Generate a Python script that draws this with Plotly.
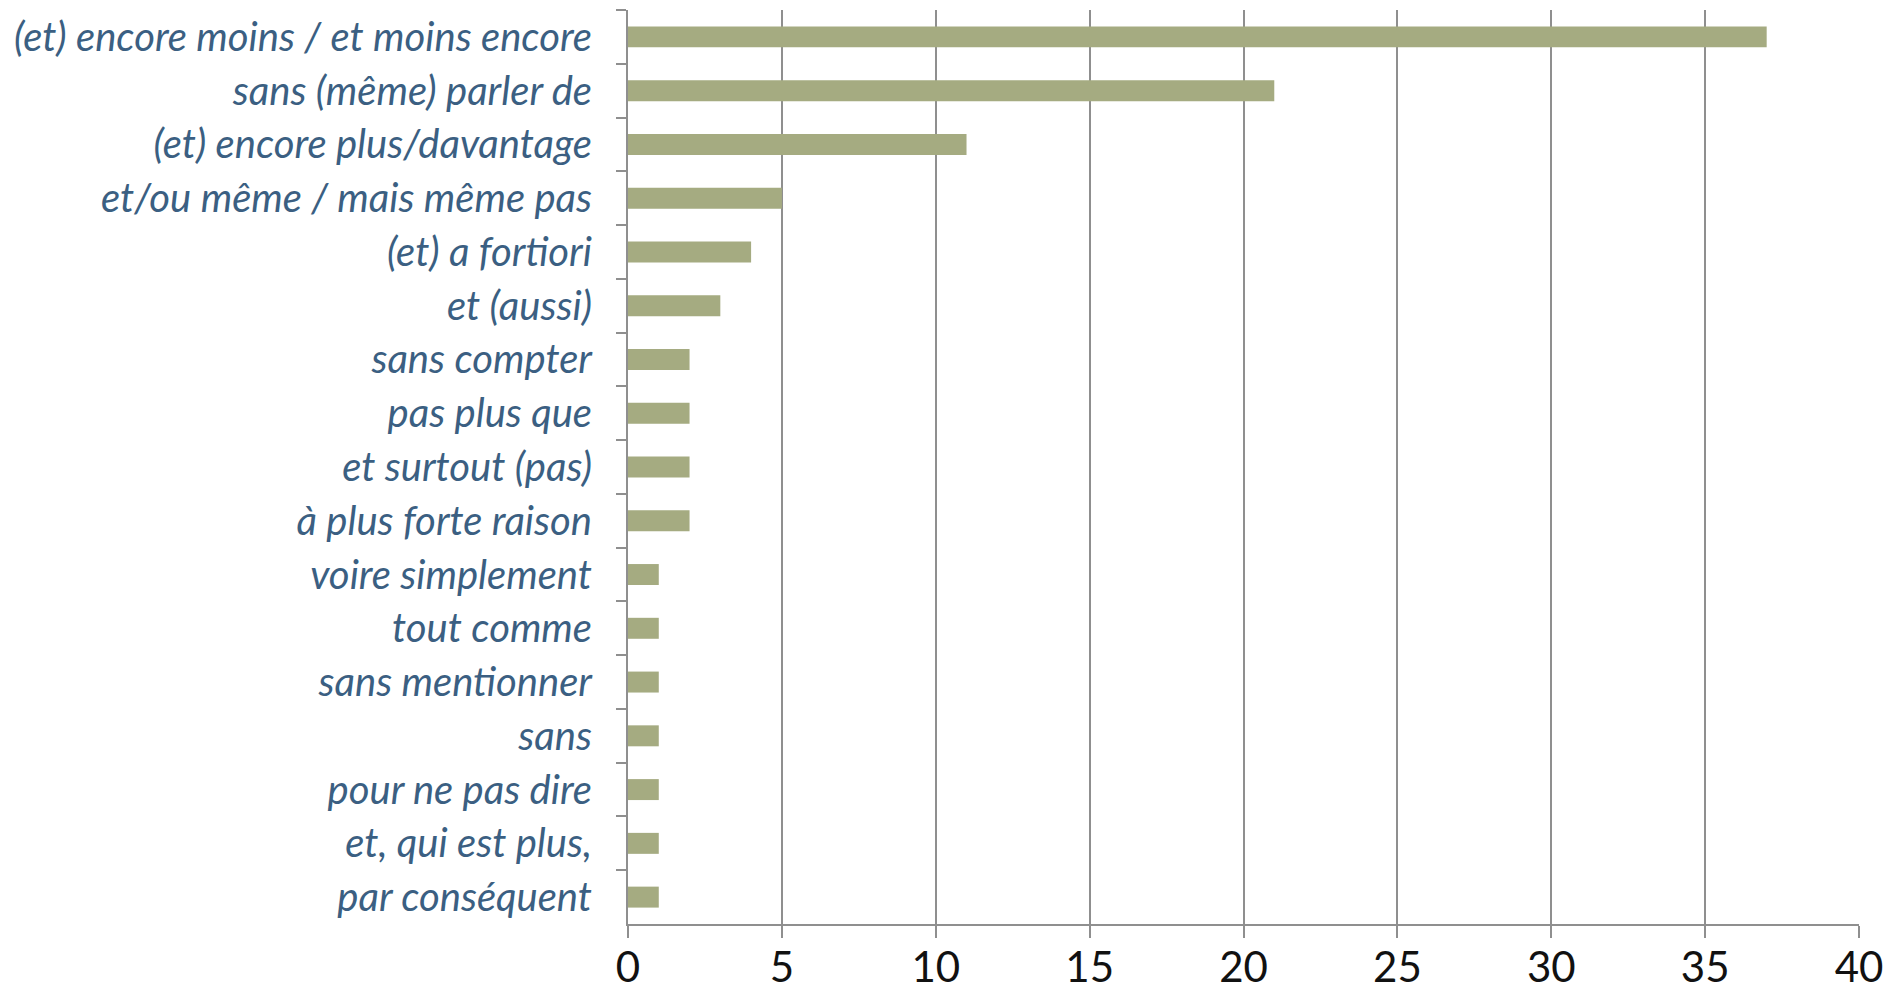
import plotly.graph_objects as go

categories = [
    "(et) encore moins / et moins encore",
    "sans (même) parler de",
    "(et) encore plus/davantage",
    "et/ou même / mais même pas",
    "(et) a fortiori",
    "et (aussi)",
    "sans compter",
    "pas plus que",
    "et surtout (pas)",
    "à plus forte raison",
    "voire simplement",
    "tout comme",
    "sans mentionner",
    "sans",
    "pour ne pas dire",
    "et, qui est plus,",
    "par conséquent",
]
values = [37, 21, 11, 5, 4, 3, 2, 2, 2, 2, 1, 1, 1, 1, 1, 1, 1]
x_ticks = [0, 5, 10, 15, 20, 25, 30, 35, 40]

fig = go.Figure(go.Bar(
    x=values, y=categories, orientation="h",
    marker=dict(color="#A5AB81", line=dict(width=0)),
    width=0.39,
))

fig.update_layout(
    width=1893, height=993,
    margin=dict(l=628, r=34, t=10, b=69, autoexpand=False),
    paper_bgcolor="white", plot_bgcolor="white",
    showlegend=False,
    font=dict(family="Lato", color="#3B5F82"),
)
fig.update_xaxes(
    range=[0, 40], tickvals=x_ticks, ticktext=[str(v) for v in x_ticks],
    showgrid=True, gridcolor="#8F8F8F", gridwidth=1.5,
    showline=True, linecolor="#8F8F8F", linewidth=2,
    ticks="outside", ticklen=12, tickcolor="#8F8F8F", tickwidth=1.5,
    tickfont=dict(family="Lato", size=42, color="#111111"),
    ticklabelstandoff=-6,
    zeroline=False, fixedrange=True, automargin=False,
)
fig.update_yaxes(
    type="category", categoryorder="array", categoryarray=categories,
    range=[16.5, -0.5],
    showgrid=False, showline=True, linecolor="#8F8F8F", linewidth=2,
    ticks="outside", tickson="boundaries", ticklen=10, tickcolor="#8F8F8F", tickwidth=1.5,
    tickfont=dict(family="Lato", size=40, color="#3B5F82", style="italic"),
    ticklabelstandoff=26,
    zeroline=False, fixedrange=True, automargin=False,
)

fig.write_html(
    "out.html",
    config={"displayModeBar": False},
    post_script="document.body.style.margin='0';document.body.style.overflow='hidden';",
)
